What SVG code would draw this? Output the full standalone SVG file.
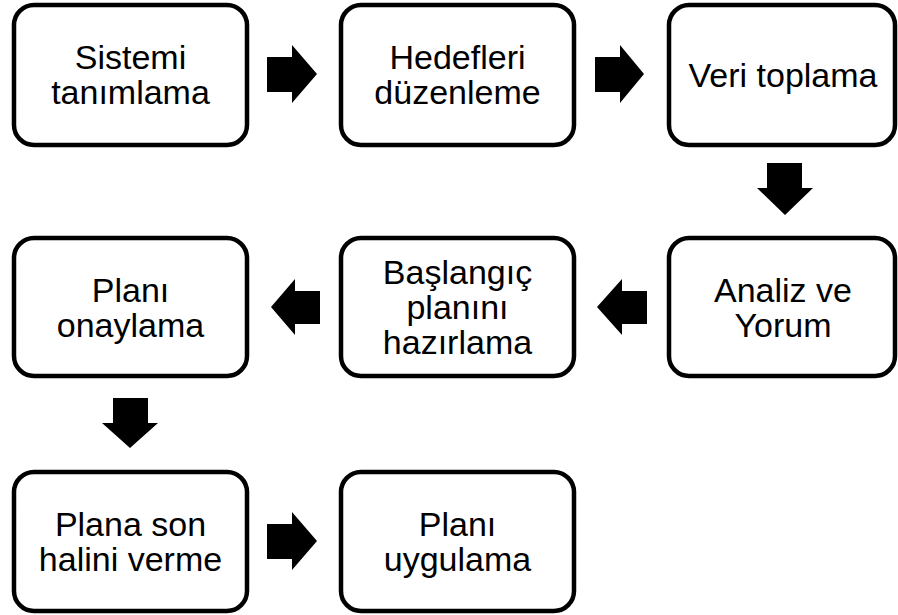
<svg xmlns="http://www.w3.org/2000/svg" width="898" height="615" viewBox="0 0 898 615">
<style>
.box{fill:#fff;stroke:#000;stroke-width:4.5}
.t{font-family:"Liberation Sans",Arial,sans-serif;font-size:34px;fill:#000;text-anchor:middle}
.ar{fill:#000}
</style>
<rect width="898" height="615" fill="#fff"/>
<g id="connectors">
<polygon class="ar" points="267,57 292,57 292,45 317,74 292,103 292,92 267,92"/>
<polygon class="ar" points="595,57 620,57 620,45 644,74 620,103 620,92 595,92"/>
<polygon class="ar" points="767,163 802,163 802,188 813,188 785,215 757,188 767,188"/>
<polygon class="ar" points="647,291 622,291 622,279 597,307 622,335 622,324 647,324"/>
<polygon class="ar" points="320,291 295,291 295,279 271,307 295,335 295,324 320,324"/>
<polygon class="ar" points="113,398 148,398 148,423 158,423 130,448 102,423 113,423"/>
<polygon class="ar" points="267,524 292,524 292,512 317,541 292,570 292,559 267,559"/>
</g>
<g id="n1"><rect class="box" x="14" y="5" width="233" height="140" rx="20"/><text class="t" x="130.5" y="69">Sistemi</text><text class="t" x="130.5" y="104">tanımlama</text></g>
<g id="n2"><rect class="box" x="341" y="5" width="233" height="140" rx="20"/><text class="t" x="457.5" y="69">Hedefleri</text><text class="t" x="457.5" y="104">düzenleme</text></g>
<g id="n3"><rect class="box" x="669" y="5" width="226" height="140" rx="20"/><text class="t" x="783" y="87">Veri toplama</text></g>
<g id="n4"><rect class="box" x="669" y="238" width="226" height="138" rx="20"/><text class="t" x="783" y="302">Analiz ve</text><text class="t" x="783" y="337">Yorum</text></g>
<g id="n5"><rect class="box" x="341" y="238" width="233" height="138" rx="20"/><text class="t" x="457.5" y="284">Başlangıç</text><text class="t" x="457.5" y="319">planını</text><text class="t" x="457.5" y="354">hazırlama</text></g>
<g id="n6"><rect class="box" x="14" y="238" width="233" height="138" rx="20"/><text class="t" x="130.5" y="302">Planı</text><text class="t" x="130.5" y="337">onaylama</text></g>
<g id="n7"><rect class="box" x="14" y="472" width="233" height="139" rx="20"/><text class="t" x="130.5" y="536">Plana son</text><text class="t" x="130.5" y="571">halini verme</text></g>
<g id="n8"><rect class="box" x="341" y="472" width="233" height="139" rx="20"/><text class="t" x="457.5" y="536">Planı</text><text class="t" x="457.5" y="571">uygulama</text></g>
</svg>
